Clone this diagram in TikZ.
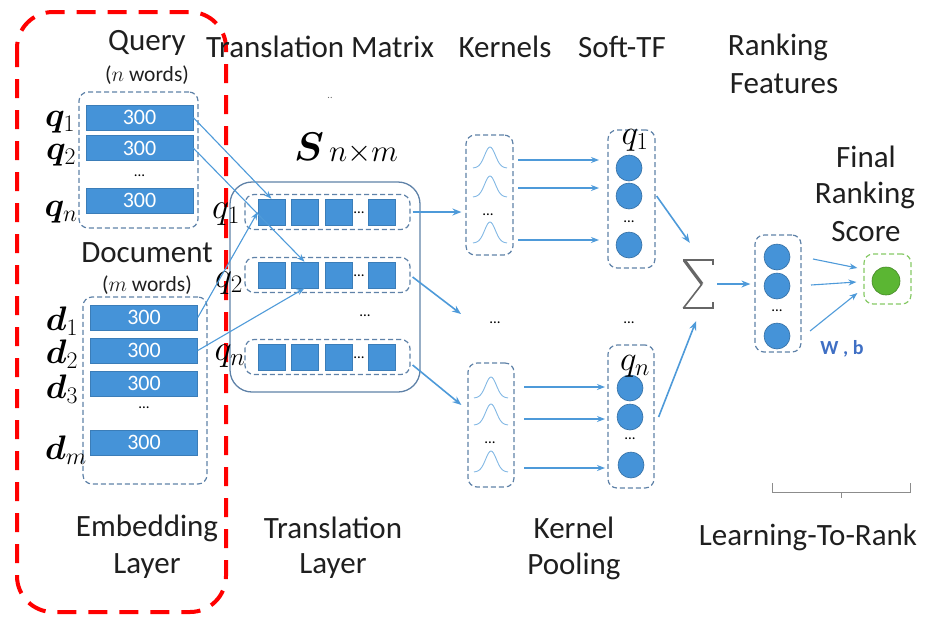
\RequirePackage{fix-cm}
\documentclass[tikz,border=0pt]{standalone}
\usepackage{amsmath,bm}
\usepackage{fontspec}
\setmainfont{Carlito}
\usetikzlibrary{arrows.meta}

\definecolor{barc}{HTML}{4593D8}
\definecolor{arrc}{HTML}{4E9AD9}
\definecolor{boxc}{HTML}{5F82A8}
\definecolor{grnc}{HTML}{5BB633}
\definecolor{grnd}{HTML}{86C965}
\definecolor{wbc}{HTML}{3F6FC4}
\definecolor{sigc}{HTML}{666666}

\tikzset{
  dbox/.style={draw=boxc, line width=1.2pt, dash pattern=on 5pt off 3pt, rounded corners=9pt, inner sep=0pt},
  bar/.style={fill=barc, draw=barc!85!black, line width=0.5pt, minimum width=107pt, minimum height=25pt, inner sep=0pt, text=white, font=\fontsize{22}{22}\selectfont},
  sq/.style={fill=barc, draw=barc!85!black, line width=0.5pt, minimum width=27pt, minimum height=26pt, inner sep=0pt},
  dot/.style={circle, fill=barc, draw=barc!75!black, line width=0.6pt, minimum size=26pt, inner sep=0pt},
  arr/.style={-{Stealth[length=9pt,width=7pt]}, draw=arrc, line width=1.6pt},
  thin/.style={-{Stealth[length=8pt,width=6pt]}, draw=arrc, line width=1.1pt},
  lbl/.style={font=\fontsize{31}{31}\selectfont, text=black!88},
  sub/.style={font=\fontsize{21.5}{21.5}\selectfont, text=black!88},
  ml/.style={font=\fontsize{34}{34}\selectfont, inner sep=0pt},
  tml/.style={font=\fontsize{36}{36}\selectfont, inner sep=0pt},
  dd/.style={font=\fontsize{15}{15}\selectfont, inner sep=0pt},
  gauss/.style={draw=arrc!70!white, line width=0.9pt},
  sigstroke/.style={draw=sigc, line cap=butt, line join=miter}
}

\begin{document}
\begin{tikzpicture}[x=1pt,y=-1pt]
\useasboundingbox (0,0) rectangle (936,625);

% ---------- embedding layer ----------
\draw[red, line width=4pt, dash pattern=on 19pt off 12pt, rounded corners=36pt] (17,12) rectangle (226,612);

\node[lbl] (qt) at (147,43) {Query};
\node[sub] (qw) at (147,75) {($n$ words)};
\node[dbox, minimum width=119pt, minimum height=136pt] (qbox) at (138.5,160) {};
\node[bar] (q1) at (139.5,117.5) {300};
\node[bar] (q2) at (139.5,148) {300};
\node[dd] (qdots) at (139.5,176) {...};
\node[bar] (qn) at (139.5,200.5) {300};
\node[ml] (lq1) at (60,122) {$\bm{q}_1$};
\node[ml] (lq2) at (61,155) {$\bm{q}_2$};
\node[ml] (lqn) at (61,212) {$\bm{q}_n$};

\node[lbl] (dt) at (147,253) {Document};
\node[sub] (dw) at (147,285) {($m$ words)};
\node[dbox, minimum width=124pt, minimum height=187pt] (dbx) at (145,390.5) {};
\node[bar] (d1) at (144,317.5) {300};
\node[bar] (d2) at (144,350.5) {300};
\node[bar] (d3) at (144,383.5) {300};
\node[dd] (ddots) at (144,408) {...};
\node[bar] (dm) at (144,442.5) {300};
\node[ml] (ld1) at (62,321) {$\bm{d}_1$};
\node[ml] (ld2) at (62,354) {$\bm{d}_2$};
\node[ml] (ld3) at (62,389) {$\bm{d}_3$};
\node[ml] (ldm) at (66,450) {$\bm{d}_m$};

\node[lbl] (emb1) at (147,528) {Embedding};
\node[lbl] (emb2) at (147,566) {Layer};

% ---------- translation layer ----------
\node[lbl] (tmt) at (320,47) {Translation Matrix};
\node[font=\fontsize{10}{10}\selectfont, text=black!60] (tick) at (330,98) {..};
\node[font=\fontsize{40}{40}\selectfont] (smat) at (309,147) {$\bm{S}$};
\node[font=\fontsize{31}{31}\selectfont, anchor=west, inner sep=0pt] (sdim) at (329,154) {$n{\times}m$};

\node[draw=boxc, line width=1.3pt, rounded corners=22pt, minimum width=190pt, minimum height=210pt, inner sep=0pt] (tbox) at (325,287) {};
\foreach \r/\y in {1/212,2/275,n/357}{
  \node[dbox, minimum width=165pt, minimum height=35pt] (row\r) at (327.5,\y) {};
  \node[sq] (s\r a) at (271.5,\y) {};
  \node[sq] (s\r b) at (304.5,\y) {};
  \node[sq] (s\r c) at (338.5,\y) {};
  \node[dd] (s\r d) at (359,\y+1) {...};
  \node[sq] (s\r e) at (382,\y) {};
}
\node[dd] (tdots) at (365,316) {...};
\node[tml] (tq1) at (226,214) {$q_1$};
\node[tml] (tq2) at (229,283) {$q_2$};
\node[tml] (tqn) at (230,356) {$q_n$};

\node[lbl] (tl1) at (333,528) {Translation};
\node[lbl] (tl2) at (333,566) {Layer};

% embeddings into the matrix
\draw[thin] (q1.east) -- (s1a.north);
\draw[thin] (q2.east) -- (s2b.north);
\draw[thin] (d1.east) -- (s1a.west);
\draw[thin] (d2.east) -- (s2b.south);

% ---------- kernel pooling ----------
\node[lbl] (kt) at (505,47) {Kernels};
\node[lbl] (st) at (622,47) {Soft-TF};

\node[dbox, minimum width=47pt, minimum height=120pt] (k1) at (489.5,195) {};
\node[dbox, minimum width=46pt, minimum height=124pt] (k2) at (491,425) {};
\foreach \b in {168,197,243}{
  \draw[gauss] plot[domain=-1:1, samples=31, smooth] ({490+17*\x},{\b-21*exp(-5*\x*\x)});
}
\foreach \b in {398,425,472}{
  \draw[gauss] plot[domain=-1:1, samples=31, smooth] ({491+17*\x},{\b-21*exp(-5*\x*\x)});
}
\node[dd] (k1d) at (488,215) {...};
\node[dd] (k2d) at (490,443) {...};
\node[dd] (mk) at (495,323) {...};
\node[dd] (ms) at (629,323) {...};
\coordinate (mkin) at (461,314);

\node[dbox, minimum width=47pt, minimum height=138pt] (sf1) at (631.5,199) {};
\node[dbox, minimum width=46pt, minimum height=143pt] (sf2) at (631,416.5) {};
\node[dot] (c11) at (629,168) {};
\node[dot] (c12) at (629,196) {};
\node[dd] (c1d) at (629,222) {...};
\node[dot] (c13) at (629,245) {};
\node[dot] (c21) at (630,388) {};
\node[dot] (c22) at (630,417) {};
\node[dd] (c2d) at (630,439) {...};
\node[dot] (c23) at (631,465) {};
\node[font=\fontsize{35}{35}\selectfont, inner sep=0pt] (sq1) at (635,140) {$q_1$};
\node[font=\fontsize{35}{35}\selectfont, inner sep=0pt] (sqn) at (635,366) {$q_n$};

\foreach \y in {160,188,240}{ \draw[thin] (518,\y) -- (599,\y); }
\foreach \y in {387,419,468}{ \draw[thin] (524,\y) -- (605,\y); }

\draw[arr] ([xshift=2pt]row1.east) -- ([xshift=-4pt]k1.west |- row1.east);
\draw[arr] ([shift={(2,2)}]row2.east) -- (mkin);
\draw[arr] ([shift={(2,8)}]rown.east) -- ([shift={(-6,-20)}]k2.west);

\node[lbl] (kp1) at (574,528) {Kernel};
\node[lbl] (kp2) at (574,566) {Pooling};

% ---------- learning to rank ----------
\node[minimum width=32pt, minimum height=50pt, inner sep=0pt] (sig) at (698,284) {};
\draw[sigstroke, line width=1.8pt] ([shift={(1,1)}]sig.north west) -- ([shift={(-1,1)}]sig.north east) -- ([shift={(-1,6)}]sig.north east);
\draw[sigstroke, line width=3.2pt] ([shift={(2.5,1.5)}]sig.north west) -- ([shift={(4,0)}]sig.center);
\draw[sigstroke, line width=1.6pt] ([shift={(4,0)}]sig.center) -- ([shift={(1.5,-1)}]sig.south west);
\draw[sigstroke, line width=2.2pt] ([shift={(1,-1)}]sig.south west) -- ([shift={(-1,-1)}]sig.south east) -- ([shift={(-1,-7)}]sig.south east);

\draw[arr] ([xshift=1pt]sf1.east |- c12) -- ([shift={(8,-16)}]sig.north west);
\draw[arr] ([xshift=4pt]sf2.east |- c22) -- ([shift={(-2,12)}]sig.south);

\node[lbl] (rf1) at (778,47) {Ranking};
\node[lbl] (rf2) at (784,84) {Features};

\node[dbox, minimum width=46pt, minimum height=117pt] (lbox) at (778,293.5) {};
\node[dot] (l1) at (777,257) {};
\node[dot] (l2) at (777,286) {};
\node[dd] (ld) at (777,311) {...};
\node[dot] (l3) at (777,336) {};
\draw[arr] ([xshift=3pt]sig.east) -- ([xshift=-4pt]lbox.west |- sig.east);

\node[draw=grnd, line width=1.2pt, dash pattern=on 5pt off 3pt, rounded corners=9pt, minimum width=47pt, minimum height=50pt, inner sep=0pt] (fbox) at (887.5,279) {};
\node[circle, fill=grnc, draw=grnc!75!black, line width=0.6pt, minimum size=28pt, inner sep=0pt] (fc) at (886,281) {};
\coordinate (w1) at (813,259);
\coordinate (w2) at (811,285);
\coordinate (w3) at (810,331);
\draw[thin] (w1) -- ([shift={(-6,-11)}]fbox.west);
\draw[thin] (w2) -- ([shift={(-7,3)}]fbox.west);
\draw[thin] (w3) -- ([shift={(-6,14)}]fbox.west);
\node[font=\bfseries\fontsize{20}{20}\selectfont, text=wbc] (wb) at (842,349) {W , b};

\node[lbl] (fr1) at (866,157) {Final};
\node[lbl] (fr2) at (865,195) {Ranking};
\node[lbl] (fr3) at (866,232) {Score};

\coordinate (bl) at (772,483);
\coordinate (br) at (910,483);
\draw[black!45, line width=1pt] (bl) -- (772,492) -- (910,492) -- (br) (841,492) -- (841,498);
\node[lbl] (ltr) at (808,537) {Learning-To-Rank};
\end{tikzpicture}
\end{document}
